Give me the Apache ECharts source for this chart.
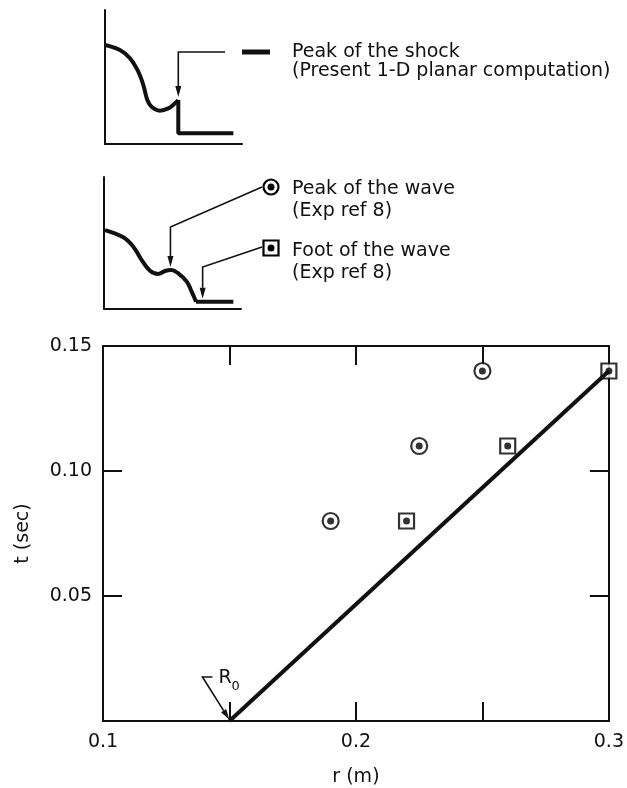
<!DOCTYPE html>
<html>
<head>
<meta charset="utf-8">
<script src="https://cdn.jsdelivr.net/npm/echarts@6/dist/echarts.min.js"></script>
<style>
html, body { margin: 0; padding: 0; background: #fff; }
#chart { width: 627px; height: 788px; }
</style>
</head>
<body>
<div id="chart"></div>
<script>
// main plot: r (m) against t (sec)
const shockR = [0.15, 0.30];
const shockT = [0, 0.14];
const peakR = [0.19, 0.225, 0.25];
const peakT = [0.08, 0.11, 0.14];
const footR = [0.22, 0.26, 0.30];
const footT = [0.08, 0.11, 0.14];
const xTicks = [0.1, 0.2, 0.3];
const yTicks = [0.05, 0.10, 0.15];
const r0 = 0.15;

// sketch profiles for the key (arbitrary units, 0..100)
const shockCurveX = [0, 10.9, 18.2, 24.3, 28, 30.9, 34, 40.1, 46.2, 51.1, 53.5];
const shockCurveY = [73.9, 70.1, 64, 54, 44, 32.8, 27.8, 24.9, 26.6, 30.4, 32.8];
const shockStepX = [53.5, 53.5, 93.7];
const shockStepY = [32.8, 8, 8];
const waveCurveX = [0.7, 14.1, 21.4, 27.5, 33.6, 39.6, 44.5, 49, 54.2, 60.4, 64, 67.2];
const waveCurveY = [59.8, 54.3, 47.2, 37.1, 29, 26.5, 28.8, 29.6, 27, 20.7, 13.1, 5.5];
const waveFlatX = [67.2, 94.4];
const waveFlatY = [5.5, 5.5];
const shockArrowAt = [53.5, 32.8];
const wavePeakAt = [48.5, 29.6];
const waveFootAt = [72, 5.5];

const zip = (a, b) => a.map((v, i) => [v, b[i]]);
const ink = '#111';
const font = '"DejaVu Sans", sans-serif';

const chart = echarts.init(document.getElementById('chart'));

const sketchAxis = (grid) => ({
  type: 'value', gridIndex: grid, min: 0, max: 100,
  axisLine: { show: true, onZero: false, lineStyle: { color: ink, width: 2 } },
  axisTick: { show: false }, axisLabel: { show: false }, splitLine: { show: false }
});
const frameAxis = (extra) => Object.assign({
  type: 'value', gridIndex: 0,
  axisLine: { show: true, onZero: false, lineStyle: { color: ink, width: 2 } },
  axisTick: { show: true, inside: true, length: 19, lineStyle: { color: ink, width: 2 } },
  splitLine: { show: false }
}, extra);

const option = {
  animation: false,
  backgroundColor: '#fff',
  grid: [
    { left: 103, right: 16, top: 346, bottom: 65 },
    { left: 105, top: 10, width: 137, height: 134 },
    { left: 104, top: 177, width: 137, height: 132 }
  ],
  xAxis: [
    frameAxis({
      position: 'bottom', min: 0.1, max: 0.3, interval: 0.05,
      name: 'r (m)', nameLocation: 'middle', nameGap: 47,
      nameTextStyle: { fontFamily: font, fontSize: 19, color: ink },
      axisLabel: {
        margin: 12, fontFamily: font, fontSize: 19, color: ink,
        formatter: v => xTicks.some(t => Math.abs(t - v) < 1e-9) ? v.toFixed(1) : ''
      }
    }),
    frameAxis({ position: 'top', min: 0.1, max: 0.3, interval: 0.05, axisLabel: { show: false } }),
    sketchAxis(1),
    sketchAxis(2)
  ],
  yAxis: [
    frameAxis({
      position: 'left', min: 0, max: 0.15, interval: 0.05,
      name: 't (sec)', nameLocation: 'middle', nameGap: 70,
      nameTextStyle: { fontFamily: font, fontSize: 19, color: ink },
      axisLabel: {
        margin: 11, fontFamily: font, fontSize: 19, color: ink,
        formatter: v => yTicks.some(t => Math.abs(t - v) < 1e-9) ? v.toFixed(2) : ''
      }
    }),
    frameAxis({ position: 'right', min: 0, max: 0.15, interval: 0.05, axisLabel: { show: false } }),
    sketchAxis(1),
    sketchAxis(2)
  ],
  series: [
    {
      name: 'Peak of the shock', type: 'line', data: zip(shockR, shockT),
      showSymbol: false, symbol: 'none', lineStyle: { color: ink, width: 4 }
    },
    {
      name: 'Peak of the wave', type: 'scatter', data: zip(peakR, peakT), clip: false,
      symbol: 'circle', symbolSize: 16,
      itemStyle: { color: '#fff', borderColor: '#000', borderWidth: 2.2 }
    },
    {
      name: 'Foot of the wave', type: 'scatter', data: zip(footR, footT), clip: false,
      symbol: 'rect', symbolSize: 15,
      itemStyle: { color: '#fff', borderColor: '#000', borderWidth: 2.2 }
    },
    {
      type: 'scatter', data: zip(peakR, peakT).concat(zip(footR, footT)), clip: false,
      symbol: 'circle', symbolSize: 7, itemStyle: { color: '#000' }
    },
    {
      type: 'line', xAxisIndex: 2, yAxisIndex: 2, data: zip(shockCurveX, shockCurveY),
      smooth: 0.4, symbol: 'none', lineStyle: { color: ink, width: 4 }
    },
    {
      type: 'line', xAxisIndex: 2, yAxisIndex: 2, data: zip(shockStepX, shockStepY),
      symbol: 'none', lineStyle: { color: ink, width: 4 }
    },
    {
      type: 'line', xAxisIndex: 3, yAxisIndex: 3, data: zip(waveCurveX, waveCurveY),
      smooth: 0.4, symbol: 'none', lineStyle: { color: ink, width: 4 }
    },
    {
      type: 'line', xAxisIndex: 3, yAxisIndex: 3, data: zip(waveFlatX, waveFlatY),
      symbol: 'none', lineStyle: { color: ink, width: 4 }
    }
  ]
};
chart.setOption(option);

// arrows and key text, anchored to the scales
function arrow(points, w) {
  const n = points.length;
  const tip = points[n - 1], prev = points[n - 2];
  const dx = tip[0] - prev[0], dy = tip[1] - prev[1];
  const L = Math.hypot(dx, dy), ux = dx / L, uy = dy / L;
  const hl = 11, hw = 3;
  const base = [tip[0] - ux * hl, tip[1] - uy * hl];
  return [
    { type: 'polyline', z: 10, shape: { points: points.slice(0, -1).concat([base]) },
      style: { stroke: ink, lineWidth: w, fill: null } },
    { type: 'polygon', z: 10,
      shape: { points: [tip, [base[0] - uy * hw, base[1] + ux * hw], [base[0] + uy * hw, base[1] - ux * hw]] },
      style: { fill: ink } }
  ];
}
const txt = (text, x, y, size) => ({
  type: 'text', z: 10,
  style: { text: text, x: x, y: y, fill: ink, font: (size || 19) + 'px ' + font, verticalAlign: 'middle' }
});

const a = chart.convertToPixel({ gridIndex: 1 }, shockArrowAt);
const p = chart.convertToPixel({ gridIndex: 2 }, wavePeakAt);
const f = chart.convertToPixel({ gridIndex: 2 }, waveFootAt);
const t0 = chart.convertToPixel({ gridIndex: 0 }, [r0, 0]);

let g = [];
g = g.concat(arrow([[225, 52], [a[0], 52], [a[0], a[1] - 3]], 1.6));
g = g.concat(arrow([[262, 187], [p[0], 227], [p[0], p[1] - 3]], 1.6));
g = g.concat(arrow([[262, 247], [f[0], 267], [f[0], f[1] - 3]], 1.6));
g = g.concat(arrow([[t0[0] - 17, t0[1] - 44], [t0[0] - 27, t0[1] - 44], [t0[0], t0[1] - 1]], 1.6));
g.push(
  { type: 'line', z: 10, shape: { x1: 242, y1: 52, x2: 270, y2: 52 }, style: { stroke: ink, lineWidth: 5 } },
  txt('Peak of the shock', 292, 52),
  txt('(Present 1-D planar computation)', 292, 71),
  { type: 'circle', z: 10, shape: { cx: 271, cy: 187, r: 7.5 }, style: { fill: '#fff', stroke: '#000', lineWidth: 2.2 } },
  { type: 'circle', z: 11, shape: { cx: 271, cy: 187, r: 3.5 }, style: { fill: '#000' } },
  txt('Peak of the wave', 292, 189),
  txt('(Exp ref 8)', 292, 211),
  { type: 'rect', z: 10, shape: { x: 263.5, y: 240.5, width: 15, height: 15 }, style: { fill: '#fff', stroke: '#000', lineWidth: 2.2 } },
  { type: 'circle', z: 11, shape: { cx: 271, cy: 248, r: 3.5 }, style: { fill: '#000' } },
  txt('Foot of the wave', 292, 251),
  txt('(Exp ref 8)', 292, 273),
  txt('R', t0[0] - 11, t0[1] - 43),
  txt('0', t0[0] + 2, t0[1] - 34, 13)
);
chart.setOption({ graphic: g });
</script>
</body>
</html>
